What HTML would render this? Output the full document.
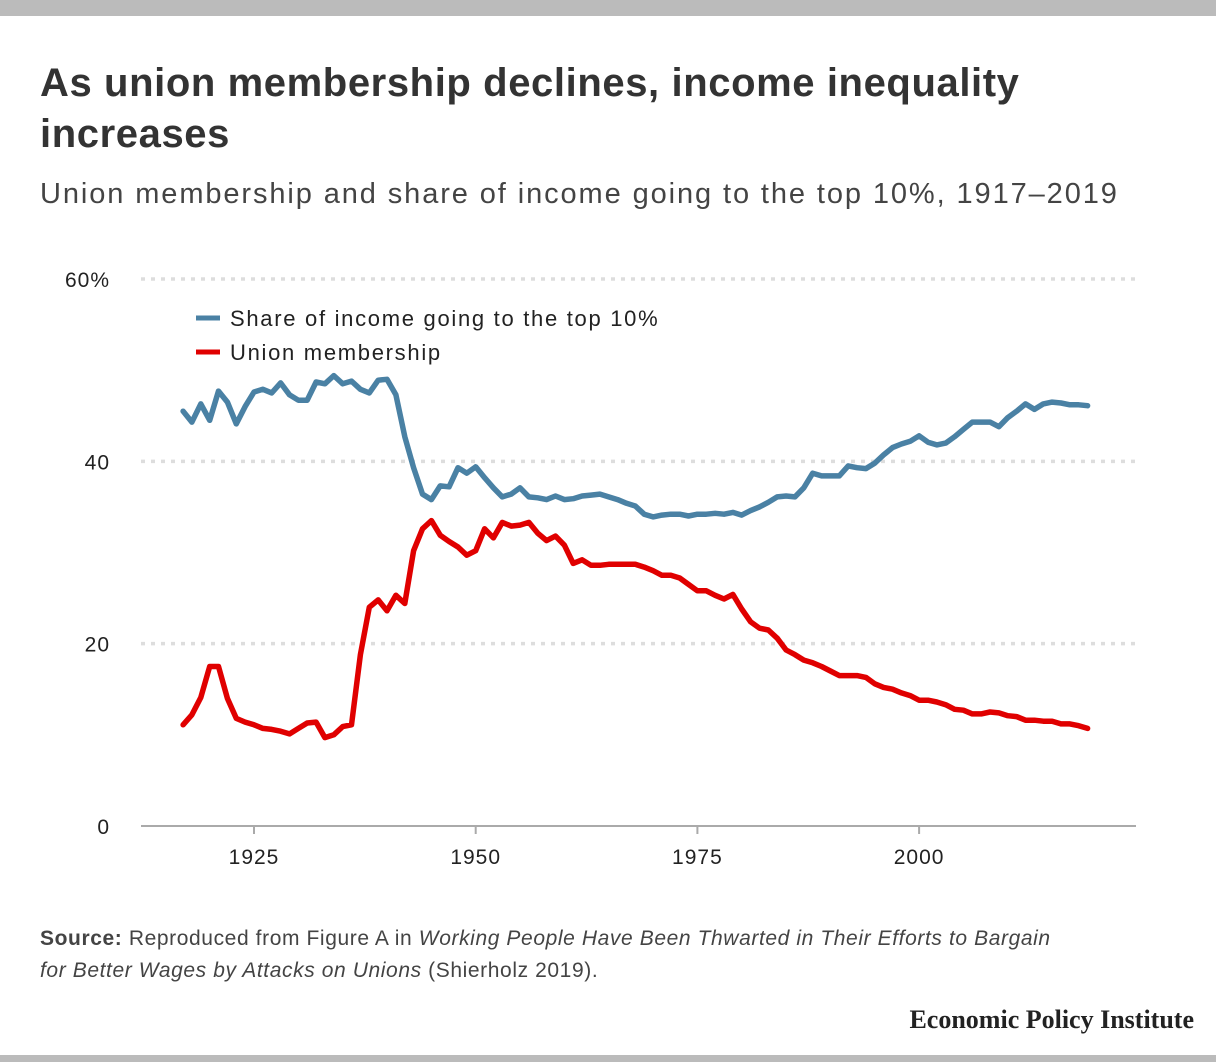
<!DOCTYPE html>
<html><head><meta charset="utf-8">
<style>
body{margin:0;width:1216px;height:1062px;background:#fff;position:relative;overflow:hidden;font-family:"Liberation Sans",sans-serif;color:#333}
.bar{position:absolute;left:0;width:1216px;background:#bbb}
#title{position:absolute;left:40px;top:58px;font-size:40px;letter-spacing:0.6px;font-weight:bold;line-height:51px;color:#333;width:1030px}
#subtitle{position:absolute;left:40px;top:178px;font-size:29px;letter-spacing:1.9px;color:#444}
#source{position:absolute;left:40px;top:923px;font-size:21px;letter-spacing:0.6px;line-height:32px;color:#444;width:1025px}
#logo{position:absolute;right:22px;top:1005px;font-family:"Liberation Serif",serif;font-weight:bold;font-size:26px;color:#222}
svg{position:absolute;left:0;top:0}
</style></head><body>
<div class="bar" style="top:0;height:16px"></div>
<div class="bar" style="top:1055px;height:7px"></div>
<div id="title">As union membership declines, income inequality increases</div>
<div id="subtitle">Union membership and share of income going to the top 10%, 1917–2019</div>
<svg id="chart" width="1216" height="1062"></svg>
<div id="source"><b>Source:</b> Reproduced from Figure A in <i>Working People Have Been Thwarted in Their Efforts to Bargain for Better Wages by Attacks on Unions</i> (Shierholz 2019).</div>
<div id="logo">Economic Policy Institute</div>
<script>
const startYear = 1917;
const topShare = [45.5,44.3,46.3,44.5,47.7,46.5,44.1,46.0,47.6,47.9,47.5,48.6,47.3,46.7,46.7,48.7,48.5,49.4,48.5,48.8,47.9,47.5,48.9,49.0,47.3,42.7,39.3,36.4,35.8,37.3,37.2,39.3,38.7,39.4,38.2,37.1,36.1,36.4,37.1,36.1,36.0,35.8,36.2,35.8,35.9,36.2,36.3,36.4,36.1,35.8,35.4,35.1,34.2,33.9,34.1,34.2,34.2,34.0,34.2,34.2,34.3,34.2,34.4,34.1,34.6,35.0,35.5,36.1,36.2,36.1,37.1,38.7,38.4,38.4,38.4,39.5,39.3,39.2,39.8,40.7,41.5,41.9,42.2,42.8,42.1,41.8,42.0,42.7,43.5,44.3,44.3,44.3,43.8,44.8,45.5,46.3,45.7,46.3,46.5,46.4,46.2,46.2,46.1];
const unionMembership = [11.1,12.2,14.1,17.5,17.5,14.0,11.8,11.4,11.1,10.7,10.6,10.4,10.1,10.7,11.3,11.4,9.7,10.0,10.9,11.1,18.8,24.0,24.8,23.6,25.3,24.4,30.2,32.6,33.5,31.9,31.2,30.6,29.7,30.2,32.6,31.6,33.3,32.9,33.0,33.3,32.1,31.3,31.8,30.8,28.8,29.2,28.6,28.6,28.7,28.7,28.7,28.7,28.4,28.0,27.5,27.5,27.2,26.5,25.8,25.8,25.3,24.9,25.4,23.8,22.4,21.7,21.5,20.6,19.3,18.8,18.2,17.9,17.5,17.0,16.5,16.5,16.5,16.3,15.6,15.2,15.0,14.6,14.3,13.8,13.8,13.6,13.3,12.8,12.7,12.3,12.3,12.5,12.4,12.1,12.0,11.6,11.6,11.5,11.5,11.2,11.2,11.0,10.7];
const yTicks = [0,20,40,60];
const yTickLabels = ["0","20","40","60%"];
const xTicks = [1925,1950,1975,2000];
const seriesNames = ["Share of income going to the top 10%","Union membership"];

const NS="http://www.w3.org/2000/svg";
const svg=document.getElementById('chart');
const x=yr=>254+(yr-1925)*8.868;
const y=v=>826-v*9.117;
function mk(tag,attrs){const e=document.createElementNS(NS,tag);for(const k in attrs)e.setAttribute(k,attrs[k]);svg.appendChild(e);return e;}

yTicks.forEach((t,i)=>{
  if(t>0){
    const g=mk('line',{x1:141,x2:1136,y1:y(t),y2:y(t),stroke:'#ddd','stroke-width':3.5,'stroke-dasharray':'4 6'});
    
    
  }
  const l=mk('text',{x:110,y:y(t)+8,'text-anchor':'end','font-size':21,'letter-spacing':1,fill:'#222','font-family':'Liberation Sans, sans-serif'});
  l.textContent=yTickLabels[i];
  
  
});
const base=mk('line',{x1:141,x2:1136,y1:826,y2:826,stroke:'#aaa','stroke-width':2});


xTicks.forEach(t=>{
  const tk=mk('line',{x1:x(t),x2:x(t),y1:826,y2:834,stroke:'#aaa','stroke-width':2});
  
  
  const l=mk('text',{x:x(t),y:864,'text-anchor':'middle','font-size':21,'letter-spacing':1,fill:'#222','font-family':'Liberation Sans, sans-serif'});
  l.textContent=t;
  
  
});
function line(data,color,name){
  const d=data.map((v,i)=>(i?'L':'M')+x(startYear+i).toFixed(1)+','+y(v).toFixed(1)).join('');
  const p=mk('path',{d:d,fill:'none',stroke:color,'stroke-width':5.5,'stroke-linejoin':'round','stroke-linecap':'round'});
  
  
}
line(topShare,'#4a81a4','top-10-share-line');
line(unionMembership,'#e00000','union-membership-line');
[['#4a81a4',318],['#e00000',352]].forEach((c,i)=>{
  const s=mk('line',{x1:196,x2:220,y1:c[1],y2:c[1],stroke:c[0],'stroke-width':5});
  
  
  const t=mk('text',{x:230,y:c[1]+8,'font-size':22,'letter-spacing':1.7,fill:'#222','font-family':'Liberation Sans, sans-serif'});
  t.textContent=seriesNames[i];
  
  
});
</script>
</body></html>
